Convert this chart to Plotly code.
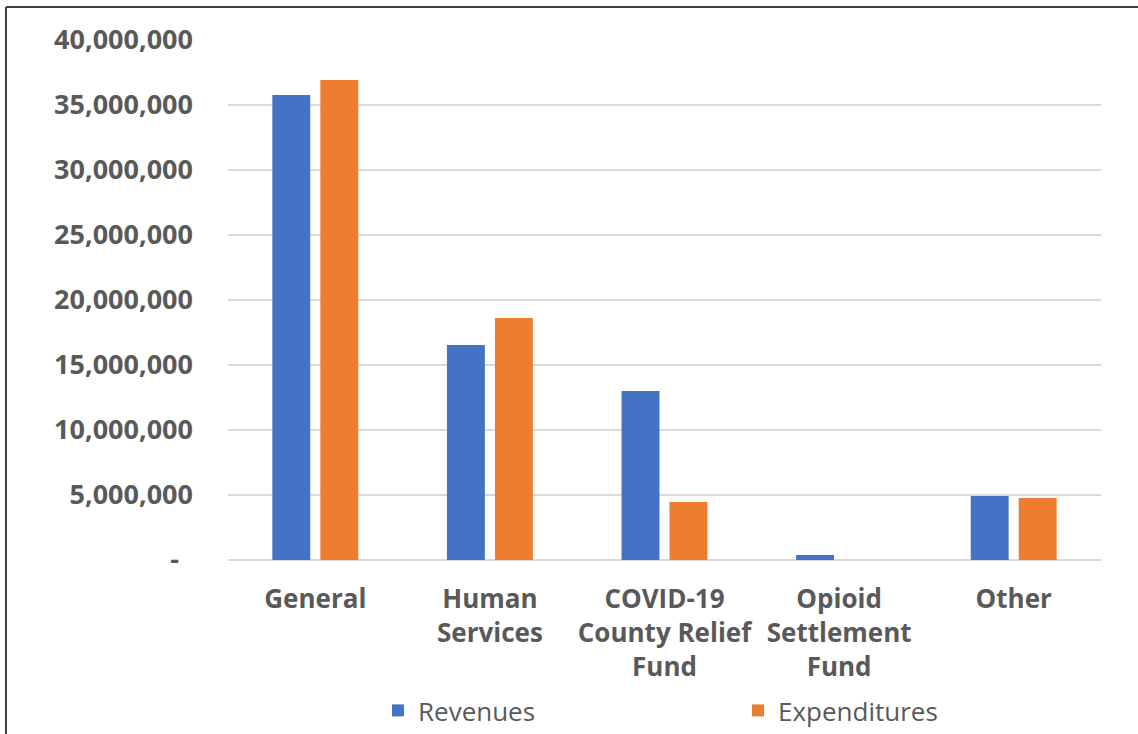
import plotly.graph_objects as go

categories = ["General", "Human<br>Services", "COVID-19<br>County Relief<br>Fund",
              "Opioid<br>Settlement<br>Fund", "Other"]
revenues = [35_770_000, 16_540_000, 13_000_000, 380_000, 4_920_000]
expenditures = [36_920_000, 18_620_000, 4_460_000, 0, 4_770_000]

tick_vals = [0, 5_000_000, 10_000_000, 15_000_000, 20_000_000,
             25_000_000, 30_000_000, 35_000_000, 40_000_000]
tick_text = ["-\u00a0\u00a0"] + [f"{v:,}" for v in tick_vals[1:]]

FONT = "Open Sans"
GREY = "#595959"

W, H = 1138, 734
L, R, T, B = 228, 37, 40, 174
pw, ph = W - L - R, H - T - B

def px_x(p):
    return (p - L) / pw

def px_y(p):
    return (H - B - p) / ph

fig = go.Figure()
fig.add_trace(go.Bar(name="Revenues", x=categories, y=revenues,
                     marker=dict(color="#4472C4", line_width=0),
                     legend="legend"))
fig.add_trace(go.Bar(name="Expenditures", x=categories, y=expenditures,
                     marker=dict(color="#ED7D31", line_width=0),
                     legend="legend2"))

# outer chart frame (left and top edges)
frame = dict(color="#404040", width=2)
fig.add_shape(type="line", xref="paper", yref="paper",
              x0=px_x(6), x1=px_x(1140), y0=px_y(7), y1=px_y(7), line=frame)
fig.add_shape(type="line", xref="paper", yref="paper",
              x0=px_x(6), x1=px_x(6), y0=px_y(7), y1=px_y(740), line=frame)

legend_style = dict(xref="container", yref="container", xanchor="left",
                    yanchor="bottom", y=0, bgcolor="rgba(0,0,0,0)",
                    font=dict(family=FONT, size=26, color=GREY))

fig.update_layout(
    width=W, height=H,
    margin=dict(l=L, r=R, t=T, b=B, autoexpand=False),
    paper_bgcolor="white", plot_bgcolor="white",
    barmode="group", bargap=0.45, bargroupgap=0.21,
    font=dict(family=FONT, color=GREY),
    showlegend=True,
    legend=dict(x=378 / W, **legend_style),
    legend2=dict(x=738 / W, **legend_style),
    xaxis=dict(showgrid=False, showline=False, ticks="",
               tickfont=dict(family=FONT, size=26, color=GREY, weight="bold"),
               ticklabelstandoff=21),
    yaxis=dict(range=[0, 40_000_000], tickvals=tick_vals, ticktext=tick_text,
               showgrid=True, gridcolor="#d9d9d9", gridwidth=2,
               zeroline=True, zerolinecolor="#d9d9d9", zerolinewidth=2,
               showline=False, ticks="",
               tickfont=dict(family=FONT, size=27, color=GREY, weight="bold"),
               ticklabelstandoff=34),
)

fig.write_html("out.html")
